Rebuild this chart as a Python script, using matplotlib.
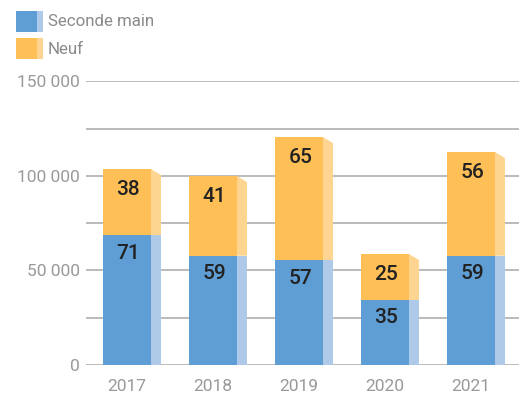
import matplotlib
matplotlib.use("Agg")
import matplotlib.pyplot as plt
from matplotlib.patches import Polygon, Rectangle
from matplotlib.ticker import FuncFormatter

years = ["2017", "2018", "2019", "2020", "2021"]
occasion = [68700, 57800, 55500, 34400, 57800]
neuf = [34900, 42100, 65000, 24300, 54800]
occasion_lbl = ["71", "59", "57", "35", "59"]
neuf_lbl = ["38", "41", "65", "25", "56"]
series_names = ["Seconde main", "Neuf"]

blue, blue_side = "#5f9ed5", "#afc9e9"
orange, orange_side = "#fdbf56", "#fed590"
grey = "#999999"

plt.rcParams["font.family"] = ["Roboto", "DejaVu Sans"]

fig = plt.figure(figsize=(5.19, 4.01), dpi=100)
ax = fig.add_axes([86 / 519, 36 / 401, 433 / 519, 283.7 / 401])

ymax = 150000
ax.set_ylim(0, ymax)
ax.set_xlim(-0.477, 4.558)

w = 0.558      # front face width
sw = 0.116     # side face width
slant = 6 * ymax / 283.7   # top of side face drops ~6 px

x = list(range(len(years)))
ax.bar(x, occasion, width=w, color=blue, zorder=3)
ax.bar(x, neuf, width=w, bottom=occasion, color=orange, zorder=3)

for i in x:
    xr = i + w / 2
    b = occasion[i]
    t = occasion[i] + neuf[i]
    ax.add_patch(Polygon([(xr, 0), (xr + sw, 0), (xr + sw, b), (xr, b)],
                         closed=True, facecolor=blue_side, edgecolor="none", zorder=3))
    ax.add_patch(Polygon([(xr, b), (xr + sw, b), (xr + sw, t - slant), (xr, t)],
                         closed=True, facecolor=orange_side, edgecolor="none", zorder=3))
    ax.annotate(occasion_lbl[i], (i, b), xytext=(1, -13), textcoords="offset points",
                ha="center", va="center", fontsize=15, fontweight="medium",
                color="#222222", zorder=5)
    ax.annotate(neuf_lbl[i], (i, t), xytext=(1, -14.5), textcoords="offset points",
                ha="center", va="center", fontsize=15, fontweight="medium",
                color="#222222", zorder=5)

ax.set_yticks([0, 50000, 100000, 150000])
ax.set_yticks([25000, 75000, 125000], minor=True)
ax.yaxis.set_major_formatter(FuncFormatter(lambda v, p: f"{int(v):,}".replace(",", " ")))
ax.grid(axis="y", which="both", color="#a8a8a8", linewidth=1.1, zorder=0)
ax.set_axisbelow(True)

ax.set_xticks(x)
ax.set_xticklabels(years)
ax.tick_params(axis="both", which="both", length=0, colors=grey, labelsize=12.5)
ax.tick_params(axis="y", pad=4.5)
ax.tick_params(axis="x", pad=10)
for s in ax.spines.values():
    s.set_visible(False)

# legend drawn by hand: square with a lighter side strip
H = 401
for (y0, c, cs), name in zip([(11, blue, blue_side), (38, orange, orange_side)], series_names):
    fig.patches.append(Rectangle((16 / 519, 1 - (y0 + 21) / H), 21 / 519, 21 / H,
                                 transform=fig.transFigure, facecolor=c, edgecolor="none"))
    fig.patches.append(Rectangle((37 / 519, 1 - (y0 + 21) / H), 6 / 519, 21 / H,
                                 transform=fig.transFigure, facecolor=cs, edgecolor="none"))
    fig.text(48 / 519, 1 - (y0 + 11) / H, name, ha="left", va="center",
             fontsize=12.2, color="#8a8a8a")

fig.savefig("out.png", dpi=100)
